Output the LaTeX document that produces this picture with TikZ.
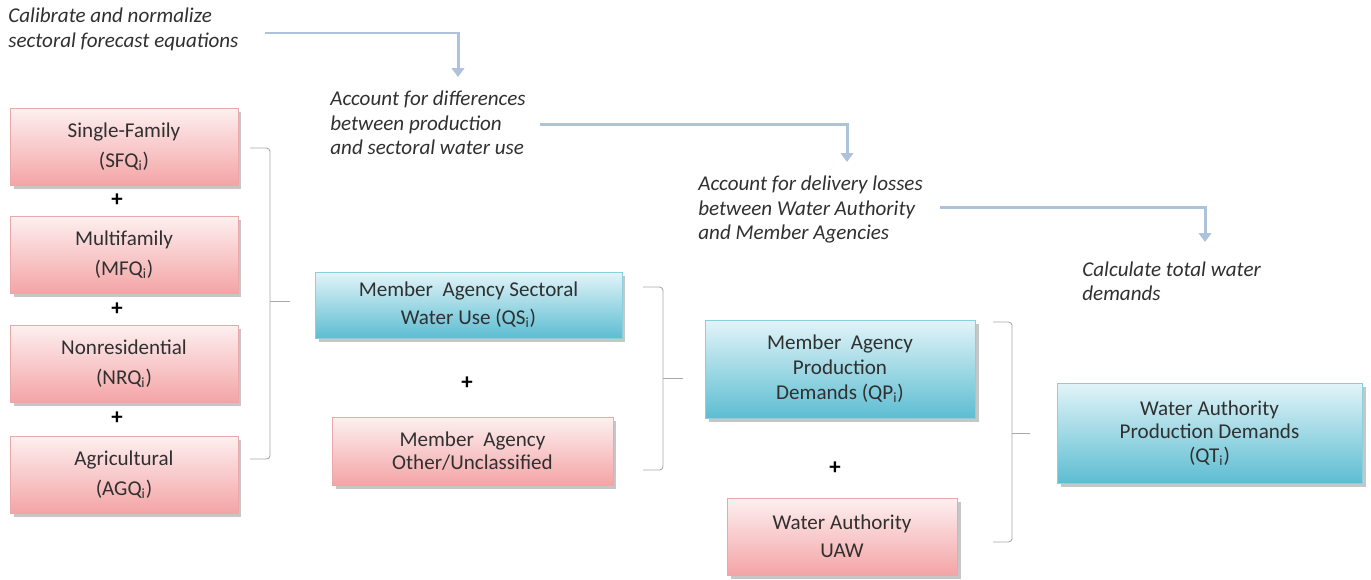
\documentclass[tikz,border=0pt]{standalone}
\usepackage{fontspec}
\setmainfont{Carlito}
\usetikzlibrary{shadows,arrows.meta}
\definecolor{pinktop}{HTML}{FDF0F0}
\definecolor{pinkbot}{HTML}{F4A4A6}
\definecolor{pinkline}{HTML}{E9A9AA}
\definecolor{bluetop}{HTML}{E2F4F8}
\definecolor{bluebot}{HTML}{5DBDD2}
\definecolor{blueline}{HTML}{8CCFDC}
\definecolor{txt}{HTML}{303030}
\definecolor{arrowc}{HTML}{AFC2DC}
\definecolor{brk}{HTML}{A8A8A8}
\tikzset{
  box/.style={draw, line width=0.5pt, align=center, text=txt, inner sep=2pt,
    drop shadow={opacity=0.45, shadow xshift=2pt, shadow yshift=-2.5pt},
    font=\fontsize{12}{17}\selectfont},
  pinkbox/.style={box, draw=pinkline, top color=pinktop, bottom color=pinkbot},
  bluebox/.style={box, draw=blueline, top color=bluetop, bottom color=bluebot},
  steptext/.style={align=left, inner sep=0pt, anchor=north west, text=txt,
    font=\fontsize{12}{13.8}\selectfont\itshape},
  plus/.style={font=\fontsize{13}{13}\selectfont\bfseries, text=black, inner sep=0pt},
  steparrow/.style={draw=arrowc, line width=1.7pt, -{Triangle[width=7pt,length=5pt]}},
  bracket/.style={draw=brk, line width=0.5pt, rounded corners=2pt}
}
\begin{document}
\begin{tikzpicture}[x=0.02cm,y=-0.02cm]
\useasboundingbox (0,0) rectangle (1371,579);

% step texts
\node[steptext] (s1) at (8,8) {Calibrate and normalize\\sectoral forecast equations};
\node[steptext] (s2) at (330,91) {Account for differences\\between production\\and sectoral water use};
\node[steptext] (s3) at (698,176) {Account for delivery losses\\between Water Authority\\and Member Agencies};
\node[steptext] (s4) at (1082,261) {Calculate total water\\demands};

\coordinate (a1s) at (265,33); \coordinate (a1e) at (458,77);
\coordinate (a2s) at (540,124); \coordinate (a2e) at (847,162);
\coordinate (a3s) at (940,207); \coordinate (a3e) at (1205,242);
\draw[steparrow] (a1s) -| (a1e);
\draw[steparrow] (a2s) -| (a2e);
\draw[steparrow] (a3s) -| (a3e);

% left column
\node[pinkbox, minimum width=4.56cm, minimum height=1.54cm] (sfq) at (124,146.5) {Single-Family\\(SFQ\textsubscript{i})};
\node[plus] (p1) at (117,200) {+};
\node[pinkbox, minimum width=4.56cm, minimum height=1.54cm] (mfq) at (124,254.5) {Multifamily\\(MFQ\textsubscript{i})};
\node[plus] (p2) at (117,309) {+};
\node[pinkbox, minimum width=4.56cm, minimum height=1.54cm] (nrq) at (124,363.5) {Nonresidential\\(NRQ\textsubscript{i})};
\node[plus] (p3) at (117,418) {+};
\node[pinkbox, minimum width=4.56cm, minimum height=1.54cm] (agq) at (124,474.5) {Agricultural\\(AGQ\textsubscript{i})};

% second column
\node[bluebox, minimum width=6.14cm, minimum height=1.32cm, font=\fontsize{12}{16}\selectfont] (qs) at (468.5,305) {Member\ \ Agency Sectoral\\Water Use (QS\textsubscript{i})};
\node[plus] (p4) at (467,383) {+};
\node[pinkbox, minimum width=5.62cm, minimum height=1.36cm, font=\fontsize{12}{13.5}\selectfont] (oth) at (472.5,451) {Member\ \ Agency\\Other/Unclassified};

% third column
\node[bluebox, minimum width=5.40cm, minimum height=1.96cm, font=\fontsize{12}{14.2}\selectfont] (qp) at (840,369) {Member\ \ Agency\\Production\\Demands (QP\textsubscript{i})};
\node[plus] (p5) at (835,468) {+};
\node[pinkbox, minimum width=4.60cm, minimum height=1.54cm, font=\fontsize{12}{16}\selectfont] (uaw) at (842,536.5) {Water Authority\\UAW};

% fourth column
\node[bluebox, minimum width=6.10cm, minimum height=2.00cm, font=\fontsize{12}{13.5}\selectfont] (qt) at (1209.5,433) {Water Authority\\Production Demands\\(QT\textsubscript{i})};

% brackets
\coordinate (b1t) at (250,148); \coordinate (b1b) at (250,459); \coordinate (b1m) at (290,301);
\draw[bracket] (b1t) -- (270,148) -- (270,459) -- (b1b);
\draw[bracket] (270,301) -- (b1m);
\coordinate (b2t) at (643,287); \coordinate (b2b) at (643,470); \coordinate (b2m) at (683,378);
\draw[bracket] (b2t) -- (663,287) -- (663,470) -- (b2b);
\draw[bracket] (663,378) -- (b2m);
\coordinate (b3t) at (993,322); \coordinate (b3b) at (993,542); \coordinate (b3m) at (1030,433);
\draw[bracket] (b3t) -- (1012,322) -- (1012,542) -- (b3b);
\draw[bracket] (1012,433) -- (b3m);
\end{tikzpicture}
\end{document}
